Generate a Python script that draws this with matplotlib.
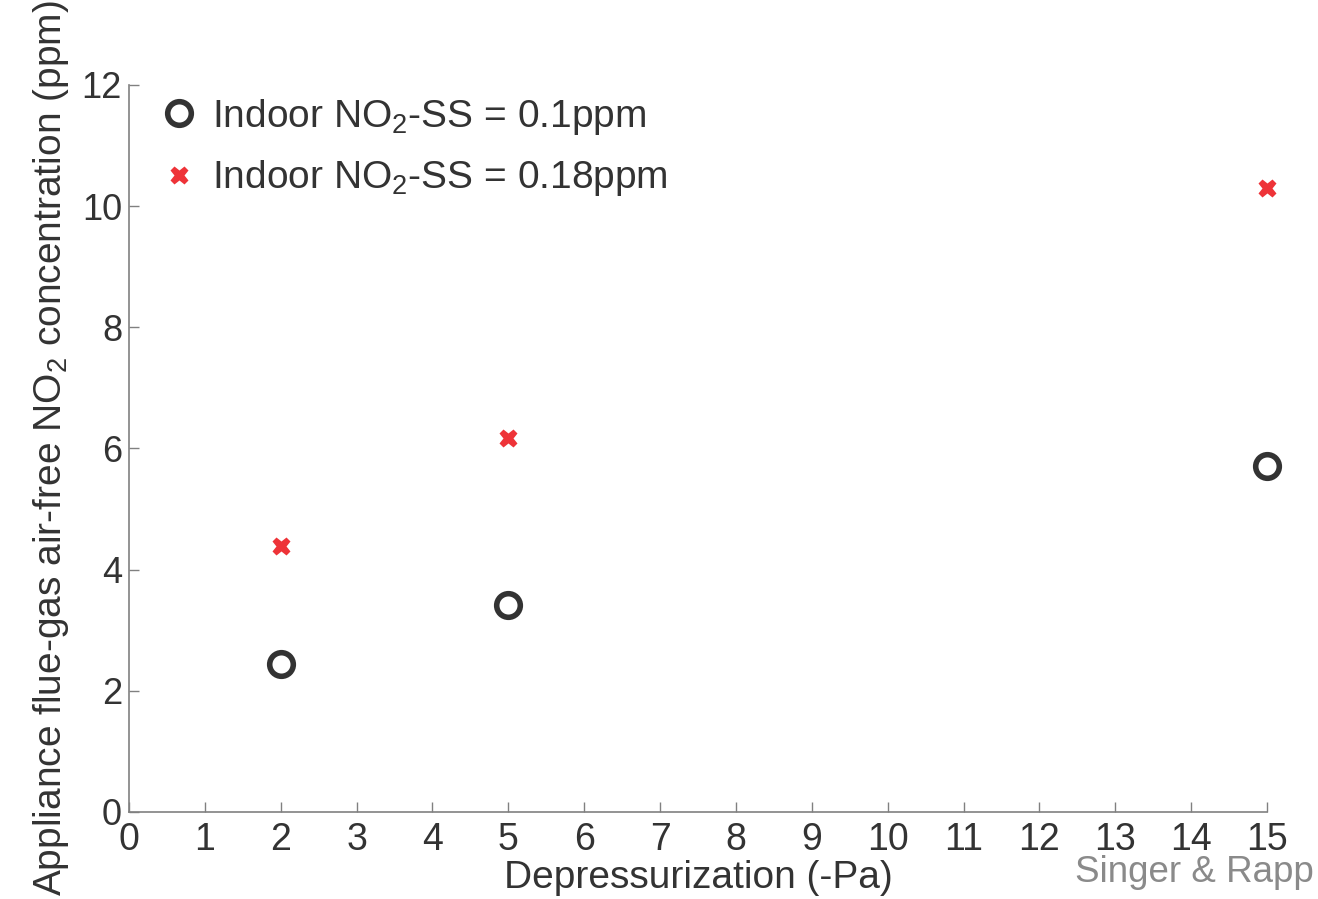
import numpy as np
import matplotlib.pyplot as plt

plt.rcParams['font.family'] = ['Liberation Sans', 'DejaVu Sans']
plt.rcParams['mathtext.fontset'] = 'custom'
plt.rcParams['mathtext.rm'] = 'Liberation Sans'
plt.rcParams['mathtext.it'] = 'Liberation Sans:italic'

# data
depress = [2, 5, 15]
no2_ss_01 = [2.44, 3.42, 5.71]
no2_ss_018 = [4.39, 6.17, 10.30]
xticks = list(range(0, 16))
yticks = [0, 2, 4, 6, 8, 10, 12]

txt = '#333333'
fig = plt.figure(figsize=(13.18, 8.99), dpi=100)
ax = fig.add_axes([0.0979, 0.0968, 0.8634, 0.8087])

ax.plot(depress, no2_ss_01, 'o', ms=17, mfc='white', mec='#333333', mew=4,
        label=r'Indoor NO$_2$-SS = 0.1ppm', clip_on=False)
ax.plot(depress, no2_ss_018, 'X', ms=13, color='#ee3338', mec='none',
        label=r'Indoor NO$_2$-SS = 0.18ppm', clip_on=False)

ax.set_xlim(0, 15)
ax.set_ylim(0, 12)
ax.set_xticks(xticks)
ax.set_yticks(yticks)
for s in ['top', 'right']:
    ax.spines[s].set_visible(False)
for s in ['left', 'bottom']:
    ax.spines[s].set_color('#808080')
    ax.spines[s].set_linewidth(1.2)
ax.tick_params(direction='in', length=7, width=1, color='#808080',
               labelcolor=txt)
ax.tick_params(axis='x', labelsize=27, pad=7)
ax.tick_params(axis='y', labelsize=26, pad=5)

ax.set_xlabel('Depressurization (-Pa)', fontsize=28, color=txt, labelpad=2)
ax.set_ylabel(r'Appliance flue-gas air-free NO$_2$ concentration (ppm)',
              fontsize=28, color=txt, labelpad=8)

leg = ax.legend(loc='upper left', bbox_to_anchor=(0.01, 1.005), frameon=False,
                fontsize=28, handletextpad=0.25, labelspacing=0.55,
                handlelength=1.2, borderaxespad=0)
for t in leg.get_texts():
    t.set_color(txt)

fig.text(0.997, 0.019, 'Singer & Rapp', fontsize=26.5, color='#8a8a8a',
         ha='right', va='baseline')

fig.savefig('out.png', dpi=100)
